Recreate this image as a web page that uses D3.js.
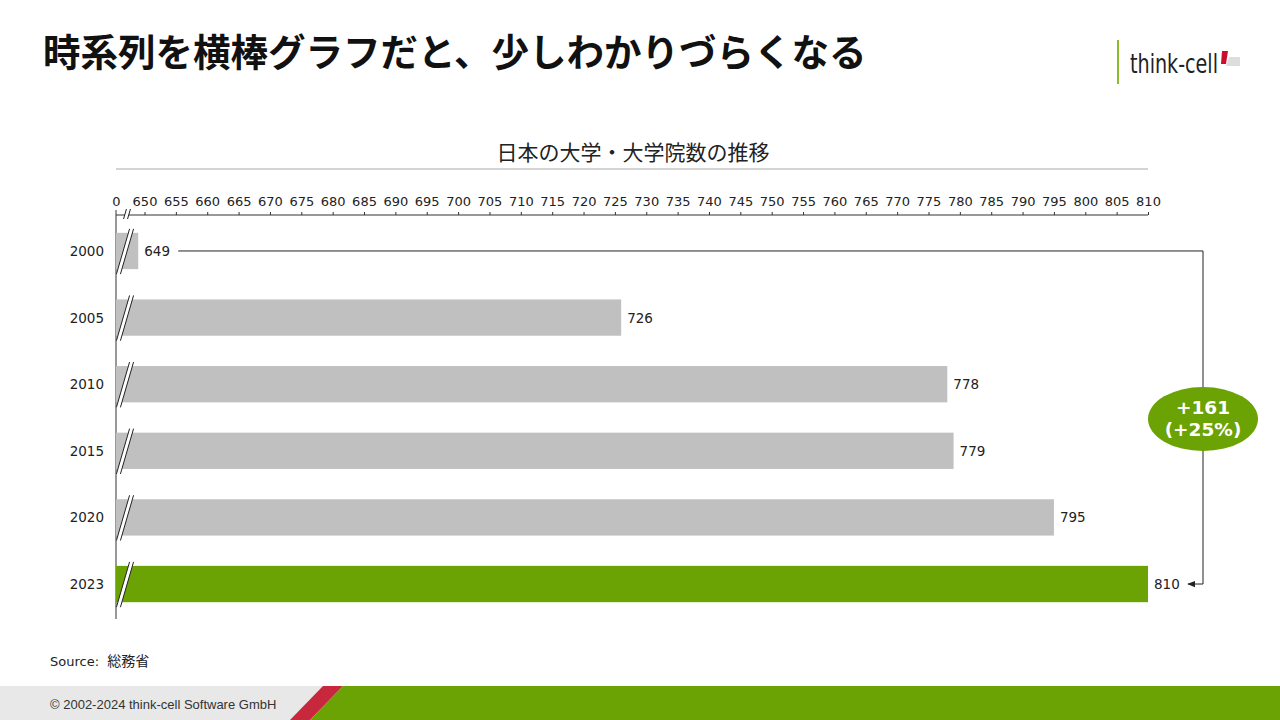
<!DOCTYPE html>
<html>
<head>
<meta charset="utf-8">
<script src="https://cdn.jsdelivr.net/npm/d3@7"></script>
<style>
  body { margin: 0; background: #fff; }
  svg { display: block; }
</style>
</head>
<body>
<svg id="chart" width="1280" height="720"></svg>
<script>
const years = ["2000", "2005", "2010", "2015", "2020", "2023"]
const counts = [649, 726, 778, 779, 795, 810]
const tickValues = d3.range(650, 811, 5)
const title = "時系列を横棒グラフだと、少しわかりづらくなる"
const chartTitle = "日本の大学・大学院数の推移"
const diffLabel = ["+161", "(+25%)"]

const green = "#6ba204"
const grey = "#c0c0c0"
const axisLeftX = 116
const jp = "'Noto Sans CJK JP', 'Noto Sans', sans-serif"
const num = "'DejaVu Sans', Verdana, sans-serif"

const svg = d3.select("#chart")

// heading
svg.append("text")
    .attr("x", 43).attr("y", 66)
    .style("font", `bold 37.5px ${jp}`)
    .style("fill", "#111")
    .text(title)

// logo
svg.append("line")
    .attr("x1", 1118).attr("x2", 1118).attr("y1", 40).attr("y2", 84)
    .style("stroke", "#8dbb2c").style("stroke-width", 2)
svg.append("text")
    .attr("x", 1130).attr("y", 73)
    .attr("textLength", 88).attr("lengthAdjust", "spacingAndGlyphs")
    .style("font", "27px 'DejaVu Sans Condensed', 'Liberation Sans', sans-serif")
    .style("fill", "#222")
    .text("think-cell")
svg.append("path").attr("d", "M1222,51 L1228,51 L1226,64 L1221,64 Z").style("fill", "#c8102e")
svg.append("path").attr("d", "M1229,57 L1240,57 L1240,66 L1226,66 Z").style("fill", "#ddd")

// chart title
svg.append("text")
    .attr("x", 633).attr("y", 160)
    .attr("text-anchor", "middle")
    .style("font", `21px ${jp}`)
    .style("fill", "#222")
    .text(chartTitle)
svg.append("line")
    .attr("x1", 116).attr("x2", 1148).attr("y1", 169).attr("y2", 169)
    .style("stroke", "#aaa")

const x = d3.scaleLinear().domain([650, 810]).range([144.5, 1148])
const y = d3.scaleBand().domain(years).range([217.7, 617.3]).paddingInner(0.455).paddingOuter(0.227)

const axisY = 215
const xAxis = svg.append("g")
    .attr("transform", `translate(0,${axisY})`)
    .call(d3.axisTop(x).tickValues(tickValues).tickSize(3).tickPadding(6).tickFormat(d3.format("d")))
xAxis.select(".domain").remove()
const zeroAxis = svg.append("g")
    .attr("transform", `translate(0,${axisY})`)
    .call(d3.axisTop(d3.scaleLinear().domain([0, 1]).range([axisLeftX, axisLeftX + 1]))
        .tickValues([0]).tickSize(0).tickPadding(9).tickFormat(d3.format("d")))
zeroAxis.select(".domain").remove()
svg.selectAll(".tick text").style("font", `13px ${num}`).style("fill", "#222")
svg.selectAll(".tick line").style("stroke", "#333")

svg.append("line")
    .attr("x1", axisLeftX).attr("x2", 1148).attr("y1", axisY).attr("y2", axisY)
    .style("stroke", "#333")
svg.append("line")
    .attr("x1", axisLeftX).attr("x2", axisLeftX).attr("y1", 210).attr("y2", 619)
    .style("stroke", "#333")

// bars
svg.selectAll(".bar")
    .data(counts)
    .enter()
    .append("rect")
    .attr("class", "bar")
    .attr("x", axisLeftX)
    .attr("y", (d, i) => y(years[i]))
    .attr("width", d => x(d) - axisLeftX)
    .attr("height", y.bandwidth())
    .style("fill", (d, i) => i === years.length - 1 ? green : grey)

// break marks
const breakMark = (cx, top, bottom) => {
    const g = svg.append("g")
    const dx = (bottom - top) * 0.29
    g.append("path")
        .attr("d", `M${cx - dx / 2},${bottom} L${cx + dx / 2},${top} L${cx + dx / 2 + 4},${top} L${cx - dx / 2 + 4},${bottom} Z`)
        .style("fill", "#fff")
    ;[0, 4].forEach(o => g.append("line")
        .attr("x1", cx - dx / 2 + o).attr("y1", bottom)
        .attr("x2", cx + dx / 2 + o).attr("y2", top)
        .style("stroke", "#222").style("stroke-width", 1))
}
years.forEach(yr => breakMark(123, y(yr) - 4, y(yr) + y.bandwidth() + 5))
breakMark(125, axisY - 6, axisY + 4)

// value labels
svg.selectAll(".val")
    .data(counts)
    .enter()
    .append("text")
    .attr("x", d => x(d) + 6)
    .attr("y", (d, i) => y(years[i]) + y.bandwidth() / 2 + 5)
    .style("font", `13.5px ${num}`)
    .style("fill", "#222")
    .text(d => d)

// category labels
svg.selectAll(".cat")
    .data(years)
    .enter()
    .append("text")
    .attr("x", 104)
    .attr("y", d => y(d) + y.bandwidth() / 2 + 5)
    .attr("text-anchor", "end")
    .style("font", `13.5px ${num}`)
    .style("fill", "#222")
    .text(d => d)

// difference bracket
const yTop = y(years[0]) + y.bandwidth() / 2
const yBot = y(years[years.length - 1]) + y.bandwidth() / 2
const bx = 1203
svg.append("defs").append("marker")
    .attr("id", "arrow").attr("viewBox", "0 0 10 10")
    .attr("refX", 9).attr("refY", 5)
    .attr("markerWidth", 8).attr("markerHeight", 8)
    .attr("orient", "auto-start-reverse")
    .append("path").attr("d", "M0,1 L10,5 L0,9 Z").style("fill", "#222")
svg.append("path")
    .attr("d", `M${x(counts[0]) + 40},${yTop} H${bx} V${yBot} H${x(counts[counts.length - 1]) + 40}`)
    .style("fill", "none").style("stroke", "#222").style("stroke-width", 1)
    .attr("marker-end", "url(#arrow)")
const ey = 419
svg.append("ellipse")
    .attr("cx", bx).attr("cy", ey).attr("rx", 55).attr("ry", 32)
    .style("fill", green)
svg.selectAll(".diff")
    .data(diffLabel)
    .enter()
    .append("text")
    .attr("x", bx)
    .attr("y", (d, i) => ey - 5 + i * 22)
    .attr("text-anchor", "middle")
    .style("font", `bold 18.5px ${num}`)
    .style("fill", "#fff")
    .text(d => d)

// source
svg.append("text")
    .attr("x", 50).attr("y", 666)
    .style("font", `13px ${num}`)
    .style("fill", "#222")
    .text("Source: ")
    .append("tspan")
    .attr("dx", 4)
    .style("font-family", jp)
    .style("font-size", "14px")
    .text("総務省")

// footer
svg.append("rect").attr("x", 0).attr("y", 686).attr("width", 1280).attr("height", 34).style("fill", "#e8e8e8")
svg.append("path").attr("d", "M290,720 L323,686 L343,686 L310,720 Z").style("fill", "#c8283c")
svg.append("path").attr("d", "M310,720 L343,686 L1280,686 L1280,720 Z").style("fill", green)
svg.append("text")
    .attr("x", 50).attr("y", 709)
    .style("font", "13px 'Liberation Sans', Arial, sans-serif")
    .style("fill", "#333")
    .text("© 2002-2024 think-cell Software GmbH")
</script>
</body>
</html>
